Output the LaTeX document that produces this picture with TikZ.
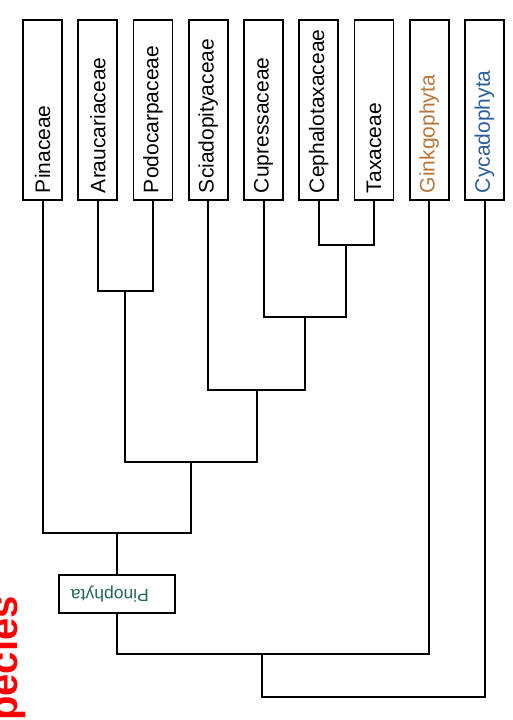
\documentclass[tikz,border=0pt]{standalone}
\usepackage{fontspec}
\setmainfont{Liberation Sans}
\definecolor{ginkc}{HTML}{B8763A}
\definecolor{cycac}{HTML}{2B5C9E}
\definecolor{pinoc}{HTML}{1E6B4E}
\begin{document}
\begin{tikzpicture}[x=1pt,y=-1pt,
  leaf/.style={draw=black, line width=1.6pt, fill=white, rotate=90,
    minimum width=180pt, minimum height=39pt, text width=166pt, inner xsep=7pt,
    align=left, font=\fontsize{21}{24}\selectfont},
  clade/.style={draw=black, line width=1.6pt, fill=white, rotate=180,
    minimum width=116pt, minimum height=38pt, text width=92pt, inner xsep=12pt,
    align=right, text=pinoc, font=\fontsize{17.5}{20}\selectfont},
  link/.style={draw=black, line width=2pt}]
\useasboundingbox (0,0) rectangle (512,720);
\fill[white] (0,0) rectangle (512,720);
% leaves
\node[leaf] (pin) at (42.5,110) {Pinaceae};
\node[leaf] (ara) at (97.75,110) {Araucariaceae};
\node[leaf] (pod) at (153,110) {Podocarpaceae};
\node[leaf] (sci) at (208.25,110) {Sciadopityaceae};
\node[leaf] (cup) at (263.5,110) {Cupressaceae};
\node[leaf] (cep) at (318.75,110) {Cephalotaxaceae};
\node[leaf] (tax) at (374,110) {Taxaceae};
\node[leaf, text=ginkc] (gin) at (429.25,110) {Ginkgophyta};
\node[leaf, text=cycac] (cyc) at (484.5,110) {Cycadophyta};
% junctions
\coordinate (j1) at (346.4,245);
\coordinate (j2) at (305,317);
\coordinate (j3) at (256.6,390);
\coordinate (j4) at (125.4,291);
\coordinate (j5) at (191,462);
\coordinate (j6) at (117,533);
\coordinate (j7) at (262,654);
\coordinate (j8) at (373,697);
\node[clade] (pino) at (117,594) {Pinophyta};
% connectors
\draw[link] (cep.west) |- (j1) -| (tax.west);
\draw[link] (cup.west) |- (j2) -| (j1);
\draw[link] (sci.west) |- (j3) -| (j2);
\draw[link] (ara.west) |- (j4) -| (pod.west);
\draw[link] (j4) |- (j5) -| (j3);
\draw[link] (pin.west) |- (j6) -| (j5);
\draw[link] (j6) -- (pino.south);
\draw[link] (pino.north) |- (j7) -| (gin.west);
\draw[link] (j7) |- (j8) -| (cyc.west);
% red label
\node[rotate=90, anchor=base east, inner sep=0pt, text=red,
  font=\fontsize{40}{44}\selectfont\bfseries] (sp) at (17,596) {pecies};
\end{tikzpicture}
\end{document}
